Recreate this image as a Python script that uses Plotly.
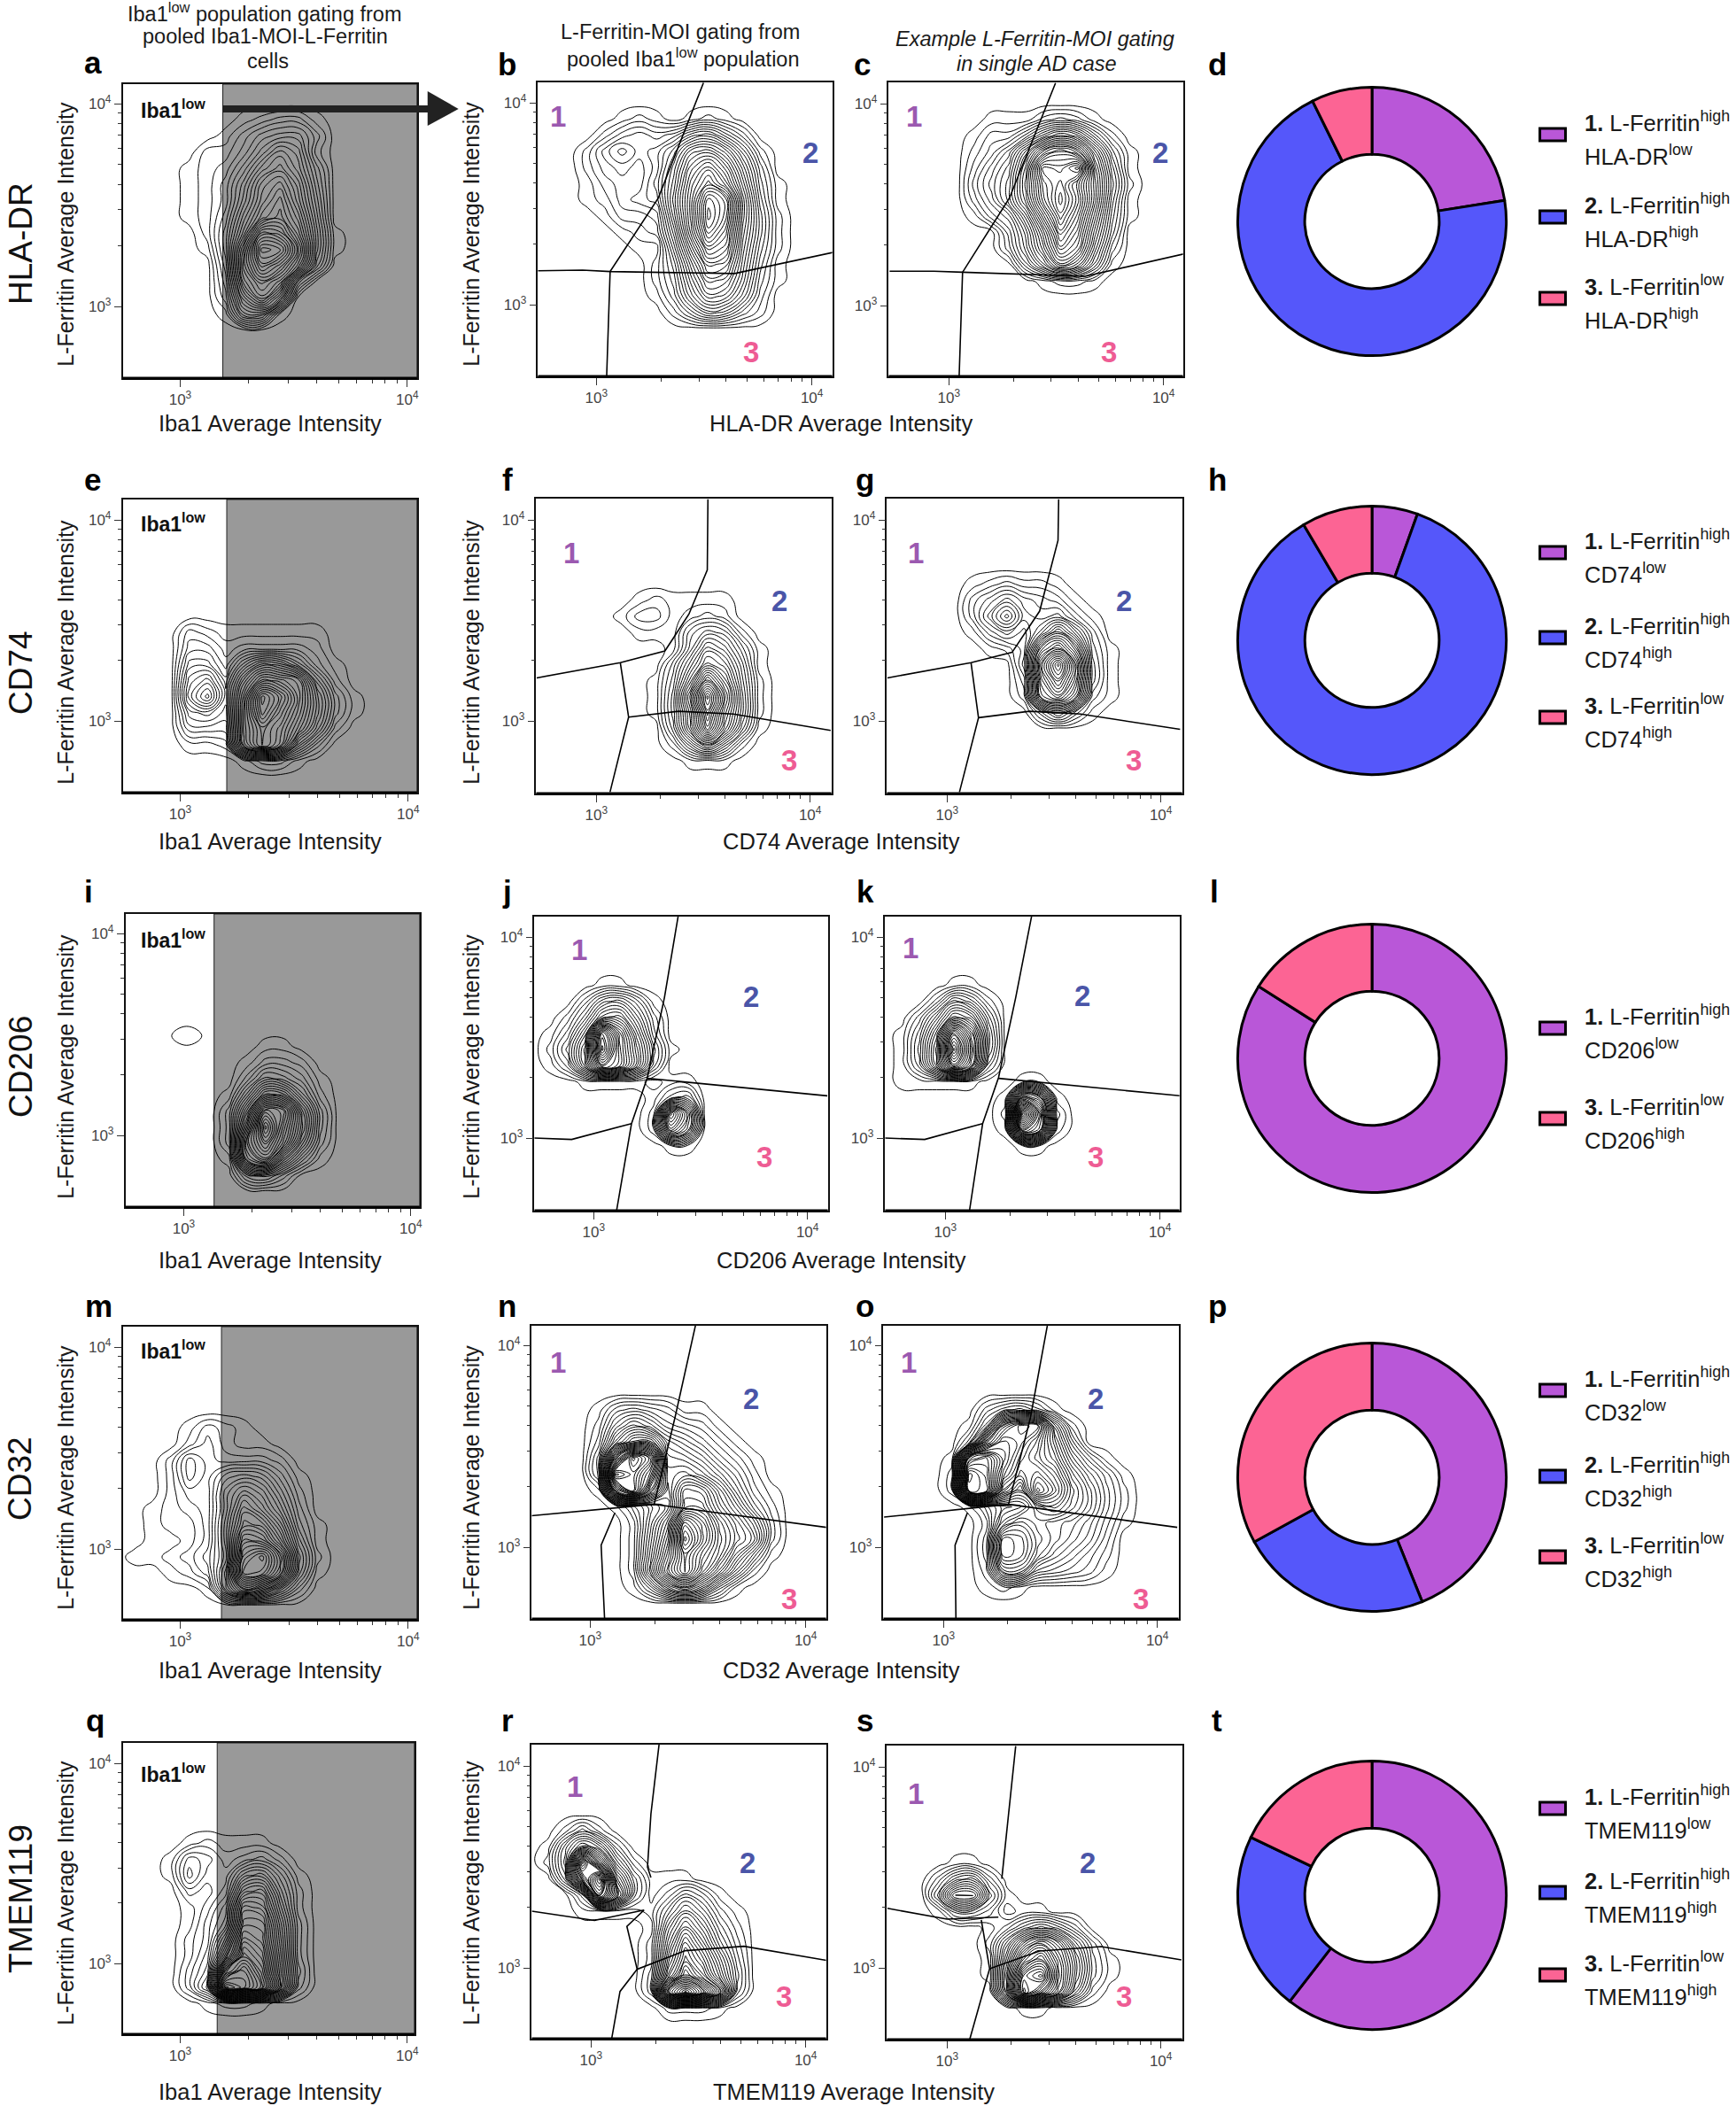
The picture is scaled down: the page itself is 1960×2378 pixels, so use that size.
import math
import plotly.graph_objects as go

W, H = 1960, 2378

# shared density grid (average intensity); first and last column and last row are always empty
GRID_X = [525, 631, 759, 912, 1096, 1318, 1585, 1905, 2291, 2754, 3311, 3981, 4786, 5754, 6918, 8318, 10000]
GRID_Y = [10000, 8318, 6918, 5754, 4786, 3981, 3311, 2754, 2291, 1905, 1585, 1318, 1096, 912, 759, 631, 525, 437]

# contour level read at each grid node; (first row, rows), one base-36 digit per column
Z_A = (1, ["000000123310000", "000001356630000", "00002247a820000", "0001236ac940000", "0001248dfb50000",
           "0001249ehc60000", "000125bgie70000", "000026dnmg81000", "000016hsrj81000", "000005ipmg60000",
           "000004gkh500000", "000003chb000000", "000001881000000"])
Z_B = (1, ["000012101210000", "000245458963000", "00257569efc7200", "0024546bhkga400", "0013447cjnjc510",
           "0012456dkspe610", "0001334cktpe720", "0000123ajrnd720", "00000118gnlc620", "00000026djib510",
           "00000025bgfa410", "000000149dc8300", "000000025874200"])
Z_C = (1, ["000001113431000", "00001336adb6200", "0000247dknkc510", "0000369grqtf710", "000047ahpsng820",
           "000036agotog710", "0000146ckrme610", "00000049gokc500", "00000038elia300", "00000005agd7100",
           "000000001221000"])
Z_E = (7, ["000321111110000", "000442333320000", "0006638cb731000", "0008a5djig72000", "0009d6grnha4100",
           "000675hqlga4100", "000444hmje82000", "000112gmi830000", "000000133100000"])
Z_F = (5, ["000001211110000", "000013312320000", "000001115762000", "000000016b95100", "000000049ec7100",
           "00000015clf8200", "00000016gsi9200", "00000016epg9200", "00000005dme7100", "000000027c72000",
           "000000001110000"])
Z_G = (4, ["000012322100000", "000035754310000", "000037b65631000", "000014648d83000", "00000124gke4100",
           "00000005ltj5100", "00000003jpi5100", "00000002hkf3100", "000000004841000"])
Z_I = (7, ["000000011000000", "000000133200000", "000000376410000", "0000017ed720000", "000003cpnc40000",
           "000003guld40000", "000003kqja30000", "000001hlb510000", "000000563000000"])
Z_J = (3, ["000110000000000", "003785100000000", "026cd8300000000", "14asjb400000000", "26dukd610000000",
           "14cnkd500000000", "001111011000000", "000000145000000", "0000002me000000", "0000002hc000000",
           "000000011000000"])
Z_K = (3, ["000110000000000", "003862000000000", "038ec5000000000", "15cqi7000000000", "16evk7000000000",
           "15dpi4000000000", "111110011000000", "0000001kg100000", "0000002zn300000", "0000001pl200000",
           "000000011000000"])
Z_M = (5, ["000132100000000", "000242110000000", "002643332000000", "002647874100000", "002449ca6200000",
           "012349fc8300000", "01224ahgb410000", "01124alke610000", "112359ork820000", "00124bqpj710000",
           "00001ahe8300000"])
Z_N = (4, ["000145431100000", "00027a854310000", "0003bgg97531000", "0005ozuba853100", "0005zwqcdb85200",
           "0001pwkbihc7310", "0000147ajjea520", "0000028ernhd930", "0000029guoieb30", "000002aiqlhb610",
           "000002bkqjd7200", "0000015bfb51000"])
Z_O = (4, ["000003564100000", "000016jnm920000", "00004iomic50000", "0001svpkhe84100", "0002zwnikhb7410",
           "0002yxidnjd9520", "00001478dfc9520", "000002adba97410", "000003hgca86300", "000003hgb864200",
           "000002cc6543100", "000001210000000"])
Z_Q = (5, ["000121110000000", "001542342000000", "001633895100000", "000324de7200000", "000136ih9200000",
           "000147kkb300000", "00024bnlc300000", "00025fqnd300000", "00036qvpe400000", "00038zwrf300000",
           "000012210000000"])
Z_R = (4, ["025200000000000", "17c930000000000", "28th72000000000", "06mwc5111000000", "004rg5136410000",
           "00111126a731000", "00000019ea52000", "0000002bid73000", "0000002dkga4000", "0000003gojc5000",
           "0000003szsj4000", "000000022210000"])
Z_S = (6, ["000110000000000", "003783000000000", "006ff6100000000", "001553011000000", "000001368630000",
           "0000028fjf83000", "000001blpib4100", "000001dsvjb4100", "000000cuoh82000", "000000011000000"])

# small isolated island in panel i
ISLAND_X = [760, 1030, 1400]
ISLAND_Y = [2506, 3112, 3864]
ISLAND_Z = [[0, 0, 0], [0, 1, 0], [0, 0, 0]]

# Iba1-low gate positions
IBA1_GATES = {"a": 1540, "e": 1600, "i": 1360, "m": 1517, "q": 1455}

# L-Ferritin-MOI gates: polylines of (log10 x, log10 y)
GATES = {
    "b": [[(2.728, 3.168), (2.936, 3.171), (3.064, 3.164), (3.561, 3.154), (3.641, 3.154), (4.099, 3.259)],
          [(3.048, 2.648), (3.064, 3.164), (3.288, 3.529), (3.497, 4.099)]],
    "c": [[(2.724, 3.17), (2.93, 3.17), (3.064, 3.165), (3.571, 3.145), (3.635, 3.145), (4.093, 3.255)],
          [(3.048, 2.647), (3.064, 3.165), (3.282, 3.532), (3.497, 4.102)]],
    "f": [[(2.721, 3.214), (3.112, 3.29), (3.321, 3.348), (3.433, 3.531), (3.519, 3.751), (3.522, 4.102)],
          [(3.064, 2.646), (3.151, 3.019), (3.112, 3.29)],
          [(3.151, 3.019), (3.385, 3.048), (3.641, 3.034), (4.096, 2.953)]],
    "g": [[(2.721, 3.214), (3.112, 3.29), (3.304, 3.341), (3.433, 3.546), (3.519, 3.898), (3.522, 4.102)],
          [(3.058, 2.646), (3.147, 3.016), (3.112, 3.29)],
          [(3.147, 3.016), (3.385, 3.048), (3.625, 3.034), (4.09, 2.958)]],
    "j": [[(3.106, 2.632), (3.177, 3.072), (3.251, 3.301), (3.331, 3.699), (3.395, 4.103)],
          [(2.72, 3.0), (2.897, 2.993), (3.177, 3.072)],
          [(3.251, 3.297), (4.093, 3.21)]],
    "k": [[(3.113, 2.64), (3.174, 3.072), (3.248, 3.301), (3.328, 3.699), (3.402, 4.103)],
          [(2.717, 3.0), (2.904, 2.993), (3.174, 3.072)],
          [(3.248, 3.297), (4.093, 3.21)]],
    "n": [[(2.728, 3.156), (3.297, 3.212), (4.096, 3.098)],
          [(3.297, 3.212), (3.393, 3.639), (3.489, 4.1)],
          [(3.067, 2.645), (3.051, 3.01), (3.115, 3.171)]],
    "o": [[(2.722, 3.149), (3.304, 3.212), (4.093, 3.098)],
          [(3.304, 3.212), (3.406, 3.639), (3.486, 4.1)],
          [(3.058, 2.645), (3.054, 3.01), (3.112, 3.171)]],
    "r": [[(3.317, 4.107), (3.279, 3.762), (3.263, 3.499), (3.279, 3.447)],
          [(2.724, 3.281), (3.016, 3.235), (3.247, 3.286), (3.167, 3.205), (3.215, 2.993), (3.439, 3.085),
           (3.712, 3.107), (4.096, 3.037)],
          [(3.096, 2.648), (3.135, 2.883), (3.215, 2.993)]],
    "s": [[(3.321, 4.103), (3.288, 3.765), (3.256, 3.443)],
          [(2.721, 3.296), (3.0, 3.242), (3.24, 3.252)],
          [(3.106, 2.644), (3.199, 2.996), (3.16, 3.238)],
          [(3.199, 2.996), (3.433, 3.084), (3.721, 3.106), (4.096, 3.04)]],
}

DONUT_D = [22.5, 70.2, 7.3]
DONUT_H = [5.5, 86.0, 8.5]
DONUT_L = [84.0, 16.0]
DONUT_P = [43.9, 23.1, 33.0]
DONUT_T = [60.5, 21.6, 17.9]

COL_PURPLE, COL_BLUE, COL_PINK = "#B957D8", "#5557FA", "#FC6494"
FONT = "Liberation Sans"

# panel boxes in pixels: left, right, top, bottom, x tick 10^3, x tick 10^4, y tick 10^4, y tick 10^3
BOX = {
    "a": (139, 472, 95, 427, 204, 461, 117, 346),
    "b": (609, 942, 93, 425, 675, 919, 116, 344),
    "c": (1006, 1339, 93, 425, 1074, 1317, 117, 345),
    "e": (139, 472, 564, 895, 204, 462, 587, 814),
    "f": (607, 941, 563, 896, 675, 917, 587, 814),
    "g": (1004, 1338, 563, 896, 1072, 1314, 587, 814),
    "i": (142, 475, 1032, 1363, 208, 465, 1054, 1282),
    "j": (605, 937, 1035, 1367, 672, 914, 1058, 1285),
    "k": (1002, 1335, 1035, 1367, 1070, 1313, 1058, 1285),
    "m": (139, 472, 1498, 1829, 204, 462, 1521, 1749),
    "n": (602, 935, 1497, 1828, 668, 912, 1519, 1747),
    "o": (1000, 1334, 1497, 1828, 1068, 1310, 1519, 1747),
    "q": (139, 469, 1968, 2297, 204, 461, 1991, 2217),
    "r": (602, 935, 1970, 2302, 669, 912, 1994, 2222),
    "s": (1004, 1338, 1971, 2303, 1072, 1314, 1995, 2222),
}
ZS = {"a": Z_A, "b": Z_B, "c": Z_C, "e": Z_E, "f": Z_F, "g": Z_G, "i": Z_I, "j": Z_J, "k": Z_K,
      "m": Z_M, "n": Z_N, "o": Z_O, "q": Z_Q, "r": Z_R, "s": Z_S}

MINOR = [2000, 3000, 4000, 5000, 6000, 7000, 8000, 9000]


def grid(spec):
    start, rows = spec
    out = [[0] * len(GRID_X) for _ in GRID_Y]
    for i, row in enumerate(rows):
        vals = [int(c, 36) for c in row.ljust(15, "0")[:15]]
        out[start + i] = [0] + vals + [0]
    return out


fig = go.Figure()
shapes, annos, layout_axes = [], [], {}


def fx(px):
    return px / W


def fy(px):
    return 1 - px / H


def text(x, y, s, size, color="#1a1a1a", angle=0, anchor="center"):
    annos.append(dict(x=fx(x), y=fy(y), xref="paper", yref="paper", text=s, showarrow=False,
                      font=dict(size=size, color=color, family=FONT), textangle=angle,
                      xanchor=anchor, yanchor="middle"))


def contour(x, y, z, n):
    fig.add_trace(go.Contour(x=x, y=y, z=z, xaxis=f"x{n}", yaxis=f"y{n}", showscale=False, hoverinfo="skip",
                             autocontour=False,
                             contours=dict(start=0.5, end=36, size=1, coloring="none", showlabels=False),
                             line=dict(color="#000000", width=1, smoothing=1.3)))


for n, key in enumerate(BOX, start=2):
    L, R, T, B, x3, x4, y4, y3 = BOX[key]
    xr = [3 + (L - x3) / (x4 - x3), 3 + (R - x3) / (x4 - x3)]
    yr = [3 + (y3 - B) / (y3 - y4), 3 + (y3 - T) / (y3 - y4)]
    common = dict(type="log", showgrid=False, zeroline=False, showline=True, mirror=True, linecolor="#111",
                  linewidth=1.5, ticks="outside", ticklen=8, tickwidth=1, tickcolor="#333",
                  tickvals=[1000, 10000], ticktext=["10<sup>3</sup>", "10<sup>4</sup>"],
                  tickfont=dict(size=17, color="#444", family=FONT),
                  minor=dict(tickvals=MINOR, ticks="outside", ticklen=4, tickcolor="#333", tickwidth=1))
    layout_axes[f"xaxis{n}"] = dict(domain=[fx(L), fx(R)], range=xr, anchor=f"y{n}", **common)
    layout_axes[f"yaxis{n}"] = dict(domain=[fy(B), fy(T)], range=yr, anchor=f"x{n}", **common)
    contour(GRID_X, GRID_Y, grid(ZS[key]), n)
    if key == "i":
        contour(ISLAND_X, ISLAND_Y, ISLAND_Z, n)
    if key in IBA1_GATES:
        g = (math.log10(IBA1_GATES[key]) - xr[0]) / (xr[1] - xr[0])
        shapes.append(dict(type="rect", xref=f"x{n} domain", yref=f"y{n} domain", x0=g, x1=1, y0=0, y1=1,
                           fillcolor="#999999", line=dict(color="#222", width=1), layer="below"))
    for seg in GATES.get(key, []):
        fig.add_trace(go.Scatter(x=[10 ** p[0] for p in seg], y=[10 ** p[1] for p in seg], mode="lines",
                                 xaxis=f"x{n}", yaxis=f"y{n}", showlegend=False, hoverinfo="skip",
                                 line=dict(color="#000", width=1.6)))
    shapes.append(dict(type="line", xref=f"x{n} domain", yref=f"y{n} domain", x0=0, x1=1, y0=0, y1=0,
                       line=dict(color="#000", width=3)))

# arrow
shapes.append(dict(type="rect", xref="paper", yref="paper", x0=fx(252), x1=fx(486), y0=fy(127), y1=fy(119),
                   fillcolor="#222", line=dict(width=0)))
shapes.append(dict(type="path", xref="paper", yref="paper",
                   path=f"M {fx(484)} {fy(103)} L {fx(519)} {fy(123)} L {fx(484)} {fy(142)} Z",
                   fillcolor="#222", line=dict(width=0)))

# row labels
for y, s in [(275, "HLA-DR"), (759, "CD74"), (1204, "CD206"), (1669, "CD32"), (2144, "TMEM119")]:
    text(23, y, s, 37, color="#111", angle=-90)

# y axis labels, x axis labels
ROW_LAB_Y = [264, 736, 1204, 1668, 2137]
for y in ROW_LAB_Y:
    text(74, y, "L-Ferritin Average Intensity", 25, angle=-90)
    text(533, y, "L-Ferritin Average Intensity", 25, angle=-90)
for y, xm, s in [(478, 952, "HLA-DR"), (950, 952, "CD74"), (1423, 952, "CD206"), (1886, 952, "CD32"),
                 (2362, 966, "TMEM119")]:
    text(306, y, "Iba1 Average Intensity", 25.5)
    text(xm, y, s + " Average Intensity", 25.5)

# column headers
text(300, 14, "Iba1<sup>low</sup> population gating from", 23.5)
text(300, 41, "pooled Iba1-MOI-L-Ferritin", 23.5)
text(303, 69, "cells", 23.5)
text(770, 36, "L-Ferritin-MOI gating from", 23.5)
text(773, 65, "pooled Iba1<sup>low</sup> population", 23.5)
text(1171, 44, "<i>Example L-Ferritin-MOI gating</i>", 23.5)
text(1173, 72, "<i>in single AD case</i>", 23.5)

# panel letters
LETTERS = {"a": (105, 70), "b": (574, 72), "c": (976, 72), "d": (1378, 72),
           "e": (105, 541), "f": (574, 541), "g": (979, 541), "h": (1378, 541),
           "i": (100, 1006), "j": (574, 1006), "k": (979, 1006), "l": (1375, 1006),
           "m": (112, 1474), "n": (574, 1474), "o": (979, 1474), "p": (1378, 1474),
           "q": (108, 1942), "r": (574, 1942), "s": (979, 1942), "t": (1378, 1942)}
for k, (x, y) in LETTERS.items():
    text(x, y, f"<b>{k}</b>", 35, color="#000")

# Iba1low labels
for y in (123, 590, 1060, 1524, 2002):
    text(157, y, "<b>Iba1<sup>low</sup></b>", 23, color="#111", anchor="left")

# region numbers
REGIONS = [(632, 131, 1), (917, 173, 2), (850, 398, 3), (1035, 131, 1), (1313, 173, 2), (1255, 398, 3),
           (647, 624, 1), (882, 679, 2), (893, 859, 3), (1037, 624, 1), (1272, 679, 2), (1283, 859, 3),
           (656, 1072, 1), (850, 1125, 2), (865, 1306, 3), (1031, 1070, 1), (1225, 1124, 2), (1240, 1306, 3),
           (632, 1538, 1), (850, 1579, 2), (893, 1805, 3), (1029, 1538, 1), (1240, 1579, 2), (1291, 1805, 3),
           (651, 2017, 1), (846, 2103, 2), (887, 2254, 3), (1037, 2025, 1), (1231, 2103, 2), (1272, 2254, 3)]
RCOL = {1: "#9B59B0", 2: "#4A55A8", 3: "#EE5C94"}
for x, y, k in REGIONS:
    text(x, y, f"<b>{k}</b>", 33, color=RCOL[k])

# donuts
COLS3 = [COL_PURPLE, COL_BLUE, COL_PINK]
for vals, cols, cy in [(DONUT_D, COLS3, 250), (DONUT_H, COLS3, 723), (DONUT_L, [COL_PURPLE, COL_PINK], 1195),
                       (DONUT_P, COLS3, 1668), (DONUT_T, COLS3, 2140)]:
    r = 152
    fig.add_trace(go.Pie(values=vals, hole=0.5, sort=False, direction="clockwise", rotation=0,
                         marker=dict(colors=cols, line=dict(color="#000", width=3)), textinfo="none",
                         hoverinfo="skip", showlegend=False,
                         domain=dict(x=[fx(1553 - r), fx(1553 + r)], y=[fy(cy + r), fy(cy - r)])))

# legends
LEG = [("HLA-DR", [(1, "high", "low", 152), (2, "high", "high", 245), (3, "low", "high", 337)]),
       ("CD74", [(1, "high", "low", 624), (2, "high", "high", 720), (3, "low", "high", 810)]),
       ("CD206", [(1, "high", "low", 1161), (3, "low", "high", 1263)]),
       ("CD32", [(1, "high", "low", 1570), (2, "high", "high", 1667), (3, "low", "high", 1758)]),
       ("TMEM119", [(1, "high", "low", 2042), (2, "high", "high", 2137), (3, "low", "high", 2230)])]
SW = {1: COL_PURPLE, 2: COL_BLUE, 3: COL_PINK}
for name, items in LEG:
    for num, a, b, y in items:
        shapes.append(dict(type="rect", xref="paper", yref="paper", x0=fx(1743), x1=fx(1772), y0=fy(y + 7),
                           y1=fy(y - 7), fillcolor=SW[num], line=dict(color="#000", width=3)))
        text(1792, y - 15, f"<b>{num}.</b> L-Ferritin<sup>{a}</sup>", 25.5, anchor="left")
        text(1792, y + 23, f"{name}<sup>{b}</sup>", 25.5, anchor="left")

fig.update_layout(width=W, height=H, autosize=False, margin=dict(l=0, r=0, t=0, b=0), showlegend=False,
                  paper_bgcolor="white", plot_bgcolor="white", font=dict(family=FONT),
                  shapes=shapes, annotations=annos, **layout_axes)
fig.write_html("out.html", config={"displayModeBar": False}, post_script="document.body.style.margin='0';")
